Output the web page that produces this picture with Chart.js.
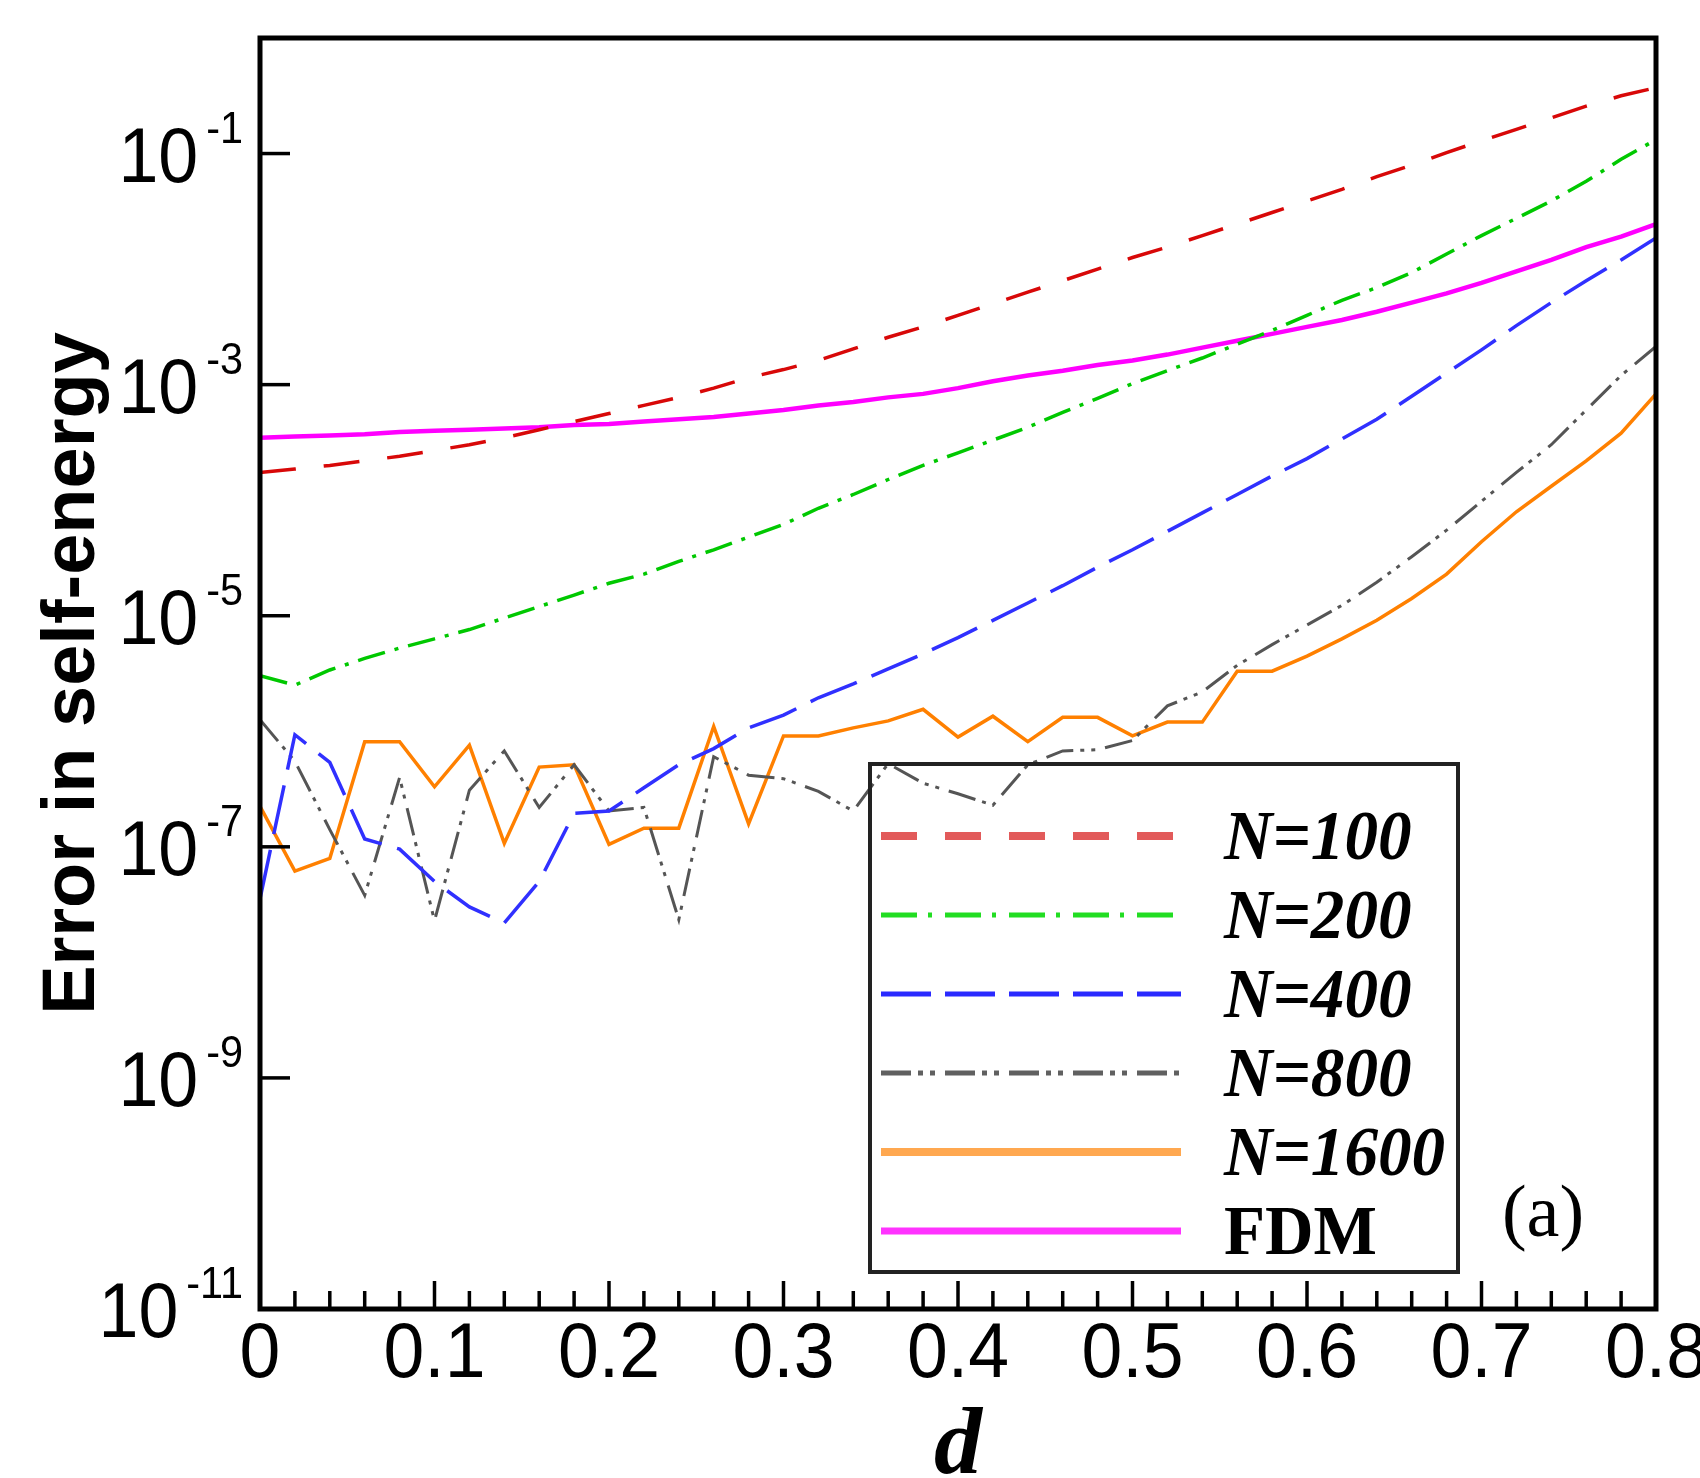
<!DOCTYPE html>
<html lang="en">
<head>
  <meta charset="UTF-8">
  <title>Error in self-energy vs d</title>
  <style>
    body {
      margin: 0;
      background: #fff;
    }
    #wrap {
      width: 1700px;
      height: 1478px;
    }
  </style>
  <script src="https://cdn.jsdelivr.net/npm/chart.js"></script>
</head>
<body>
  <div id="wrap">
    <canvas id="errChart" width="1700" height="1478"></canvas>
  </div>

  <script>
    // sample positions d
    const dValues = [0, 0.02, 0.04, 0.06, 0.08, 0.1, 0.12, 0.14, 0.16, 0.18, 0.2,
      0.22, 0.24, 0.26, 0.28, 0.3, 0.32, 0.34, 0.36, 0.38, 0.4,
      0.42, 0.44, 0.46, 0.48, 0.5, 0.52, 0.54, 0.56, 0.58, 0.6,
      0.62, 0.64, 0.66, 0.68, 0.7, 0.72, 0.74, 0.76, 0.78, 0.8];

    const errN100 = [1.74e-4, 1.86e-4, 2.00e-4, 2.19e-4, 2.40e-4, 2.69e-4, 3.02e-4, 3.47e-4, 4.07e-4, 4.79e-4, 5.62e-4,
      6.61e-4, 7.76e-4, 9.33e-4, 1.15e-3, 1.35e-3, 1.62e-3, 2.04e-3, 2.57e-3, 3.16e-3, 3.98e-3,
      5.01e-3, 6.31e-3, 7.94e-3, 1.00e-2, 1.26e-2, 1.55e-2, 1.95e-2, 2.45e-2, 3.09e-2, 3.89e-2,
      4.90e-2, 6.31e-2, 7.94e-2, 1.02e-1, 1.29e-1, 1.62e-1, 2.04e-1, 2.57e-1, 3.16e-1, 3.72e-1];

    const errN200 = [3.02e-6, 2.51e-6, 3.39e-6, 4.27e-6, 5.25e-6, 6.31e-6, 7.59e-6, 9.55e-6, 1.20e-5, 1.51e-5, 1.91e-5,
      2.29e-5, 2.95e-5, 3.72e-5, 4.79e-5, 6.17e-5, 8.51e-5, 1.12e-4, 1.51e-4, 2.00e-4, 2.57e-4,
      3.31e-4, 4.27e-4, 5.75e-4, 7.59e-4, 1.02e-3, 1.32e-3, 1.70e-3, 2.24e-3, 2.95e-3, 3.98e-3,
      5.37e-3, 6.92e-3, 9.33e-3, 1.35e-2, 1.95e-2, 2.75e-2, 3.89e-2, 5.75e-2, 8.91e-2, 1.32e-1];

    const errN400 = [3.55e-8, 9.33e-7, 5.37e-7, 1.17e-7, 9.55e-8, 5.01e-8, 3.02e-8, 2.19e-8, 5.01e-8, 1.95e-7, 2.04e-7,
      3.24e-7, 5.13e-7, 7.08e-7, 1.07e-6, 1.38e-6, 1.95e-6, 2.57e-6, 3.47e-6, 4.68e-6, 6.46e-6,
      9.12e-6, 1.29e-5, 1.82e-5, 2.63e-5, 3.72e-5, 5.37e-5, 7.76e-5, 1.12e-4, 1.62e-4, 2.29e-4,
      3.39e-4, 5.01e-4, 7.94e-4, 1.26e-3, 2.00e-3, 3.24e-3, 5.13e-3, 7.94e-3, 1.20e-2, 1.86e-2];

    const errN800 = [1.26e-6, 5.50e-7, 1.41e-7, 3.80e-8, 3.98e-7, 2.29e-8, 3.09e-7, 6.76e-7, 2.19e-7, 5.13e-7, 2.04e-7,
      2.19e-7, 2.34e-8, 6.03e-7, 4.17e-7, 3.89e-7, 3.02e-7, 2.04e-7, 5.25e-7, 3.55e-7, 2.88e-7,
      2.29e-7, 5.13e-7, 6.76e-7, 6.92e-7, 8.32e-7, 1.66e-6, 2.19e-6, 3.72e-6, 5.62e-6, 8.32e-6,
      1.23e-5, 1.95e-5, 3.24e-5, 5.50e-5, 9.77e-5, 1.74e-4, 3.02e-4, 6.03e-4, 1.20e-3, 2.14e-3];

    const errN1600 = [2.24e-7, 6.17e-8, 7.94e-8, 8.13e-7, 8.13e-7, 3.31e-7, 7.59e-7, 1.07e-7, 4.90e-7, 5.13e-7, 1.05e-7,
      1.45e-7, 1.45e-7, 1.10e-6, 1.58e-7, 9.12e-7, 9.12e-7, 1.07e-6, 1.23e-6, 1.55e-6, 8.91e-7,
      1.35e-6, 8.13e-7, 1.32e-6, 1.32e-6, 9.12e-7, 1.20e-6, 1.20e-6, 3.31e-6, 3.31e-6, 4.47e-6,
      6.31e-6, 9.12e-6, 1.41e-5, 2.29e-5, 4.37e-5, 7.94e-5, 1.32e-4, 2.19e-4, 3.80e-4, 8.32e-4];

    const errFDM = [3.47e-4, 3.55e-4, 3.63e-4, 3.72e-4, 3.89e-4, 3.98e-4, 4.07e-4, 4.17e-4, 4.27e-4, 4.47e-4, 4.57e-4,
      4.79e-4, 5.01e-4, 5.25e-4, 5.62e-4, 6.03e-4, 6.61e-4, 7.08e-4, 7.76e-4, 8.32e-4, 9.33e-4,
      1.07e-3, 1.20e-3, 1.32e-3, 1.48e-3, 1.62e-3, 1.82e-3, 2.09e-3, 2.40e-3, 2.75e-3, 3.16e-3,
      3.63e-3, 4.27e-3, 5.13e-3, 6.17e-3, 7.59e-3, 9.55e-3, 1.20e-2, 1.55e-2, 1.91e-2, 2.45e-2];

    const seriesNames = ['N=100', 'N=200', 'N=400', 'N=800', 'N=1600', 'FDM'];
    const xTickValues = [0, 0.1, 0.2, 0.3, 0.4, 0.5, 0.6, 0.7, 0.8];
    const xTickLabels = ['0', '0.1', '0.2', '0.3', '0.4', '0.5', '0.6', '0.7', '0.8'];
    const yTickExponents = [-1, -3, -5, -7, -9, -11];

    function pts(vals) {
      return dValues.map((d, i) => ({ x: d, y: vals[i] }));
    }

    // line styles: plot colour, legend colour, width, dash
    const styles = [
      { color: '#d80808', legend: '#e25a5a', width: 3.5, lw: 8, dash: [36, 28], ldash: [36, 28] },
      { color: '#00c800', legend: '#22dd22', width: 3.5, lw: 5, dash: [28, 10, 4, 10], ldash: [36, 11, 4, 13] },
      { color: '#3030ff', legend: '#2a2aff', width: 3.5, lw: 5, dash: [50, 16], ldash: [50, 14] },
      { color: '#555555', legend: '#606060', width: 3, lw: 5, dash: [28, 7, 4, 7, 4, 10], ldash: [30, 7, 5, 7, 5, 10] },
      { color: '#ff8000', legend: '#ffa850', width: 3.5, lw: 8, dash: [], ldash: [] },
      { color: '#ff00ff', legend: '#ff33ff', width: 4.5, lw: 7, dash: [], ldash: [] }
    ];

    const allSeries = [errN100, errN200, errN400, errN800, errN1600, errFDM];

    function txt(ctx, s, x, y, font, align, sx) {
      ctx.save();
      ctx.font = font;
      ctx.textAlign = align;
      ctx.textBaseline = 'alphabetic';
      ctx.translate(x, y);
      ctx.scale(sx, 1);
      ctx.fillText(s, 0, 0);
      ctx.restore();
    }

    const decor = {
      id: 'decor',
      afterDatasetsDraw(chart) {
        const ctx = chart.ctx;
        const a = chart.chartArea;
        const xs = chart.scales.x;
        const ys = chart.scales.y;
        ctx.save();
        ctx.fillStyle = '#000';
        ctx.strokeStyle = '#000';

        // frame
        ctx.lineWidth = 5;
        ctx.strokeRect(a.left, a.top, a.right - a.left, a.bottom - a.top);

        // x ticks (inward), minor every 0.02
        ctx.lineWidth = 3.5;
        for (let k = 1; k < 40; k++) {
          const px = xs.getPixelForValue(k * 0.02);
          const len = k % 5 === 0 ? 28 : 18;
          ctx.beginPath();
          ctx.moveTo(px, a.bottom);
          ctx.lineTo(px, a.bottom - len);
          ctx.stroke();
        }
        // y ticks
        yTickExponents.forEach(e => {
          const py = ys.getPixelForValue(Math.pow(10, e));
          if (Math.abs(py - a.bottom) < 2) return;
          ctx.beginPath();
          ctx.moveTo(a.left, py);
          ctx.lineTo(a.left + 30, py);
          ctx.stroke();
        });

        // x tick labels
        xTickValues.forEach((v, i) => {
          const px = xs.getPixelForValue(v);
          txt(ctx, xTickLabels[i], px, a.bottom + 68, '78px "Liberation Sans", Arial, sans-serif', 'center', 0.94);
        });

        // y tick labels 10^n
        yTickExponents.forEach(e => {
          const py = ys.getPixelForValue(Math.pow(10, e));
          const sup = '-' + Math.abs(e);
          ctx.font = '44px "Liberation Sans", Arial, sans-serif';
          const sw = ctx.measureText(sup).width * 0.94;
          const supRight = 243;
          txt(ctx, sup, supRight, py - 11, '44px "Liberation Sans", Arial, sans-serif', 'right', 0.94);
          txt(ctx, '10', supRight - sw - 8, py + 28, '78px "Liberation Sans", Arial, sans-serif', 'right', 0.92);
        });

        // axis titles
        ctx.save();
        ctx.translate(94, (a.top + a.bottom) / 2);
        ctx.rotate(-Math.PI / 2);
        ctx.font = 'bold 74px "Liberation Sans", Arial, sans-serif';
        ctx.textAlign = 'center';
        ctx.textBaseline = 'alphabetic';
        ctx.fillText('Error in self-energy', 0, 0);
        ctx.restore();
        txt(ctx, 'd', (a.left + a.right) / 2, 1473, 'italic bold 96px "Liberation Serif", "Times New Roman", serif', 'center', 1);

        // legend box
        const bx = 870, by = 764, bw = 588, bh = 508;
        ctx.lineWidth = 4;
        ctx.strokeStyle = '#222';
        ctx.strokeRect(bx, by, bw, bh);
        styles.forEach((st, i) => {
          const ry = by + 72 + i * 79;
          ctx.save();
          ctx.strokeStyle = st.legend;
          ctx.lineWidth = st.lw;
          ctx.setLineDash(st.ldash);
          ctx.beginPath();
          ctx.moveTo(881, ry);
          ctx.lineTo(1181, ry);
          ctx.stroke();
          ctx.restore();
          const f = seriesNames[i] === 'FDM'
            ? 'bold 70px "Liberation Serif", "Times New Roman", serif'
            : 'italic bold 70px "Liberation Serif", "Times New Roman", serif';
          txt(ctx, seriesNames[i], 1224, ry + 23, f, 'left', 0.96);
        });

        // panel tag
        txt(ctx, '(a)', 1543, 1236, '74px "Liberation Serif", "Times New Roman", serif', 'center', 1);
        ctx.restore();
      }
    };

    const ctx = document.getElementById('errChart').getContext('2d');
    const chart = new Chart(ctx, {
      type: 'line',
      data: {
        datasets: allSeries.map((vals, i) => ({
          label: seriesNames[i],
          data: pts(vals),
          borderColor: styles[i].color,
          borderWidth: styles[i].width,
          borderDash: styles[i].dash,
          pointRadius: 0,
          fill: false,
          tension: 0
        }))
      },
      options: {
        responsive: false,
        animation: false,
        devicePixelRatio: 1,
        layout: { padding: { left: 260, right: 44, top: 38, bottom: 169 } },
        plugins: {
          legend: { display: false },
          tooltip: { enabled: false }
        },
        scales: {
          x: { type: 'linear', min: 0, max: 0.8, display: false },
          y: { type: 'logarithmic', min: 1e-11, max: 1, display: false }
        }
      },
      plugins: [decor]
    });
  </script>
</body>
</html>
